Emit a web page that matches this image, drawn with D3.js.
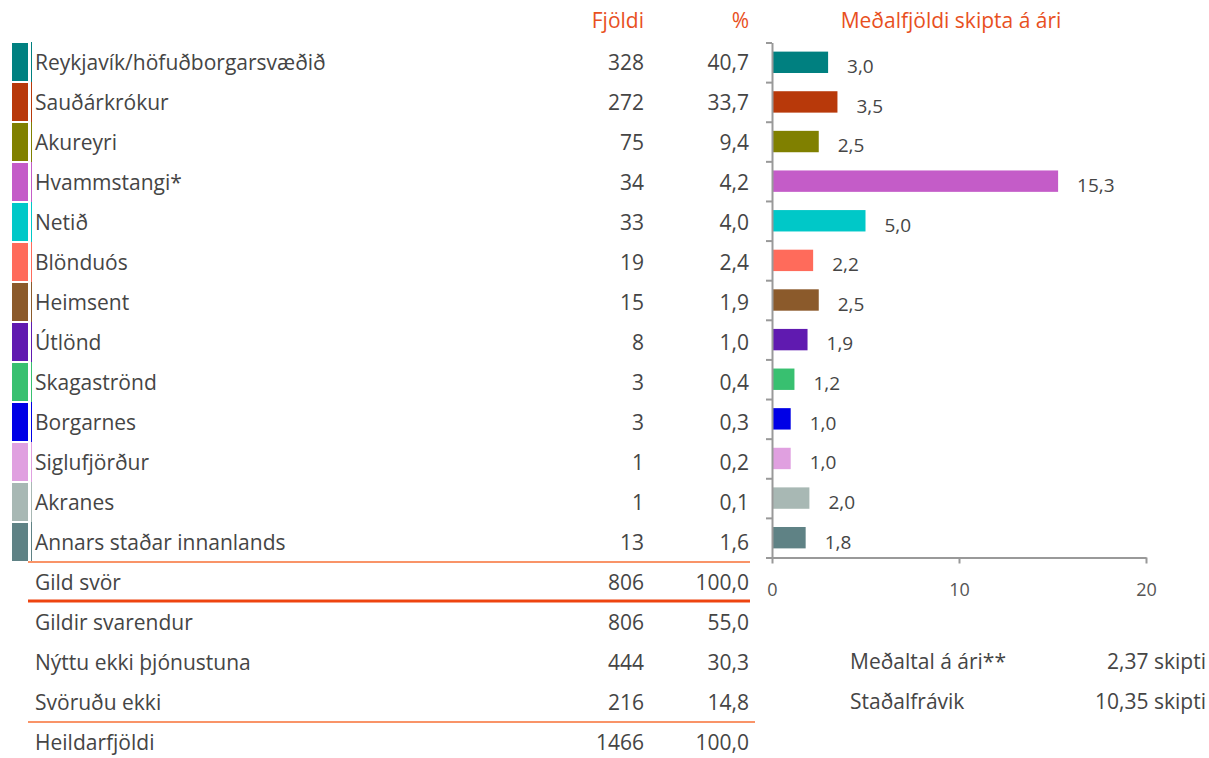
<!DOCTYPE html>
<html>
<head>
<meta charset="utf-8">
<script src="https://cdn.jsdelivr.net/npm/d3@7"></script>
<style>
  body { margin: 0; background: #fff; }
  text { font-family: "Open Sans", sans-serif; }
</style>
</head>
<body>
<div id="chart"></div>
<script>
// data
var places = ["Reykjavík/höfuðborgarsvæðið", "Sauðárkrókur", "Akureyri", "Hvammstangi*", "Netið",
  "Blönduós", "Heimsent", "Útlönd", "Skagaströnd", "Borgarnes", "Siglufjörður", "Akranes",
  "Annars staðar innanlands"];
var counts = [328, 272, 75, 34, 33, 19, 15, 8, 3, 3, 1, 1, 13];
var percents = ["40,7", "33,7", "9,4", "4,2", "4,0", "2,4", "1,9", "1,0", "0,4", "0,3", "0,2", "0,1", "1,6"];
var meanTrips = [3.0, 3.5, 2.5, 15.3, 5.0, 2.2, 2.5, 1.9, 1.2, 1.0, 1.0, 2.0, 1.8];
var colors = ["#008080", "#B8390A", "#808000", "#C45CC8", "#00C8C8", "#FF6B5B", "#8B5A2B",
  "#601AB0", "#38C070", "#0000E6", "#E0A0E0", "#A8B8B4", "#5F8285"];

var summaryLabels = ["Gild svör", "Gildir svarendur", "Nýttu ekki þjónustuna", "Svöruðu ekki", "Heildarfjöldi"];
var summaryCounts = [806, 806, 444, 216, 1466];
var summaryPercents = ["100,0", "55,0", "30,3", "14,8", "100,0"];

var statLabels = ["Meðaltal á ári**", "Staðalfrávik"];
var statValues = ["2,37 skipti", "10,35 skipti"];

var xTicks = [0, 10, 20];

var textColor = "#454545";
var orange = "#E8501E";
var fs = "21px";

var width = 1209, height = 758;

var svg = d3.select("#chart").append("svg")
  .attr("width", width)
  .attr("height", height);

// table rows
var rowY = d3.scaleBand()
  .domain(d3.range(places.length))
  .range([42, 562]);

// headers
svg.append("text").attr("x", 644).attr("y", 28).attr("text-anchor", "end")
  .attr("fill", orange).style("font-size", fs).text("Fjöldi");
svg.append("text").attr("x", 749).attr("y", 28).attr("text-anchor", "end")
  .attr("fill", orange).style("font-size", fs).text("%");
svg.append("text").attr("x", 951).attr("y", 28).attr("text-anchor", "middle")
  .attr("fill", orange).style("font-size", fs).text("Meðalfjöldi skipta á ári");

var rows = svg.selectAll(".row")
  .data(places)
  .enter().append("g")
  .attr("class", "row")
  .attr("transform", (d, i) => "translate(0," + rowY(i) + ")");

rows.append("rect")
  .attr("x", 12)
  .attr("y", 1)
  .attr("width", 16)
  .attr("height", rowY.bandwidth() - 2)
  .attr("fill", (d, i) => colors[i]);

rows.append("line")
  .attr("x1", 31.5).attr("x2", 31.5)
  .attr("y1", 0).attr("y2", rowY.bandwidth())
  .attr("stroke", (d, i) => colors[i])
  .attr("stroke-width", 1);

rows.append("text")
  .attr("x", 35)
  .attr("y", rowY.bandwidth() / 2)
  .attr("dy", "0.36em")
  .attr("fill", textColor)
  .style("font-size", fs)
  .text(d => d);

rows.append("text")
  .attr("x", 644)
  .attr("y", rowY.bandwidth() / 2)
  .attr("dy", "0.36em")
  .attr("text-anchor", "end")
  .attr("fill", textColor)
  .style("font-size", fs)
  .text((d, i) => counts[i]);

rows.append("text")
  .attr("x", 749)
  .attr("y", rowY.bandwidth() / 2)
  .attr("dy", "0.36em")
  .attr("text-anchor", "end")
  .attr("fill", textColor)
  .style("font-size", fs)
  .text((d, i) => percents[i]);

// summary rows
var sumY = d3.scaleBand()
  .domain(d3.range(summaryLabels.length))
  .range([562, 762]);

var sums = svg.selectAll(".sum")
  .data(summaryLabels)
  .enter().append("g")
  .attr("class", "sum")
  .attr("transform", (d, i) => "translate(0," + sumY(i) + ")");

sums.append("text").attr("x", 35).attr("y", sumY.bandwidth() / 2).attr("dy", "0.36em")
  .attr("fill", textColor).style("font-size", fs).text(d => d);
sums.append("text").attr("x", 644).attr("y", sumY.bandwidth() / 2).attr("dy", "0.36em")
  .attr("text-anchor", "end").attr("fill", textColor).style("font-size", fs)
  .text((d, i) => summaryCounts[i]);
sums.append("text").attr("x", 749).attr("y", sumY.bandwidth() / 2).attr("dy", "0.36em")
  .attr("text-anchor", "end").attr("fill", textColor).style("font-size", fs)
  .text((d, i) => summaryPercents[i]);

// separator lines
svg.append("line").attr("x1", 28).attr("x2", 750).attr("y1", 562).attr("y2", 562)
  .attr("stroke", "#F99468").attr("stroke-width", 2);
svg.append("line").attr("x1", 28).attr("x2", 750).attr("y1", 601).attr("y2", 601)
  .attr("stroke", "#EE4410").attr("stroke-width", 3);
svg.append("line").attr("x1", 28).attr("x2", 755).attr("y1", 722).attr("y2", 722)
  .attr("stroke", "#F99468").attr("stroke-width", 2);

// bar chart
var x = d3.scaleLinear()
  .domain([0, 20])
  .range([772, 1146]);

var yBar = d3.scaleBand()
  .domain(d3.range(places.length))
  .range([42.5, 557.5])
  .paddingInner(0.46)
  .paddingOuter(0.23);

var yTick = d3.scaleLinear()
  .domain([0, places.length])
  .range([42.5, 557.5]);

var yAxis = d3.axisLeft(yTick)
  .tickValues(d3.range(places.length + 1))
  .tickFormat("")
  .tickSize(6)
  .tickSizeOuter(0);

var xAxis = d3.axisBottom(x)
  .tickValues(xTicks)
  .tickSize(6)
  .tickSizeOuter(0)
  .tickFormat(d => d);

svg.selectAll(".bar")
  .data(meanTrips)
  .enter().append("rect")
  .attr("class", "bar")
  .attr("x", x(0))
  .attr("y", (d, i) => yBar(i))
  .attr("width", d => x(d) - x(0))
  .attr("height", yBar.bandwidth())
  .attr("fill", (d, i) => colors[i]);

svg.selectAll(".bar-label")
  .data(meanTrips)
  .enter().append("text")
  .attr("class", "bar-label")
  .attr("x", d => x(d) + 19)
  .attr("y", (d, i) => yBar(i) + yBar.bandwidth() / 2 + 4)
  .attr("dy", "0.36em")
  .attr("fill", textColor)
  .style("font-size", "19px")
  .text(d => d3.format(".1f")(d).replace(".", ","));

var gy = svg.append("g")
  .attr("class", "y-axis axis")
  .attr("transform", "translate(" + x(0) + ",0)")
  .call(yAxis);

var gx = svg.append("g")
  .attr("class", "x-axis axis")
  .attr("transform", "translate(0,557.5)")
  .call(xAxis);

svg.selectAll(".axis path, .axis line")
  .attr("stroke", "#999")
  .attr("stroke-width", 2);
gx.selectAll("text")
  .attr("fill", "#555")
  .attr("dy", "1.65em")
  .style("font-size", "18px")
  .style("font-family", "'Open Sans', sans-serif");

// stats
statLabels.forEach(function(s, i) {
  svg.append("text").attr("x", 850).attr("y", 661 + i * 40).attr("dy", "0.36em")
    .attr("fill", textColor).style("font-size", fs).text(s);
  svg.append("text").attr("x", 1206).attr("y", 661 + i * 40).attr("dy", "0.36em")
    .attr("text-anchor", "end").attr("fill", textColor).style("font-size", fs)
    .text(statValues[i]);
});
</script>
</body>
</html>
